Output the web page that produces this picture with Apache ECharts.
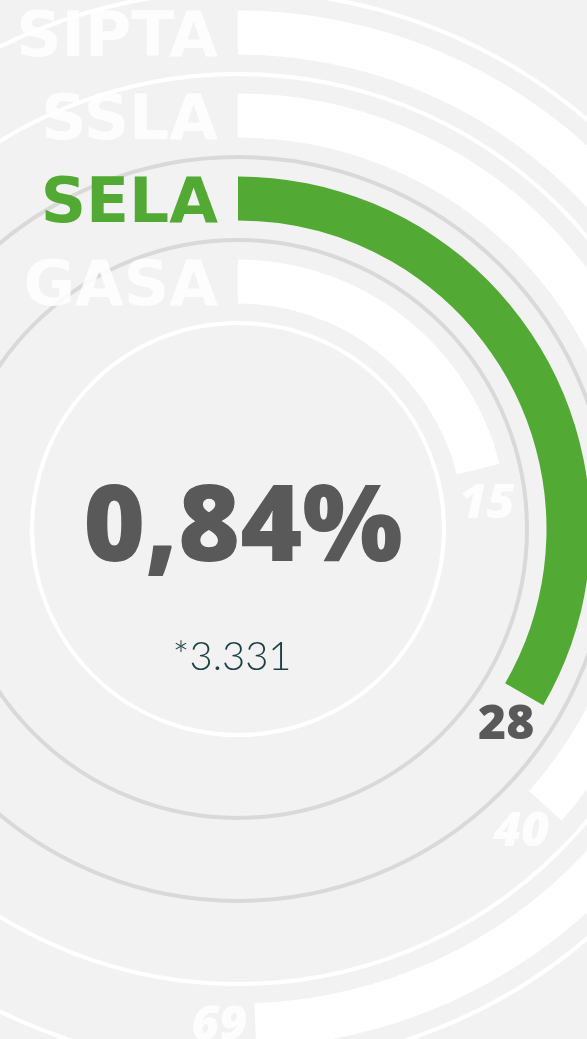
<!DOCTYPE html>
<html>
<head>
<meta charset="utf-8">
<title>SELA</title>
<style>
html, body { margin: 0; padding: 0; background: #f2f2f2; }
#chart { width: 587px; height: 1039px; }
</style>
<script src="https://cdn.jsdelivr.net/npm/echarts@6/dist/echarts.min.js"></script>
</head>
<body>
<div id="chart"></div>
<script>
// categories from the inner ring to the outer one
var categories = ['GASA', 'SELA', 'SSLA', 'SIPTA'];
var values = [15, 28, 40, 69];
// sweep of each bar in degrees
var arcs = [76, 120, 132, 178];
var highlight = 'SELA';
var headline = '0,84%';
var note = '*3.331';

var green = '#52a934';
var dark = '#595959';

var chart = echarts.init(document.getElementById('chart'));

var barData = categories.map(function (c, i) {
  var on = c === highlight;
  return {
    value: arcs[i],
    itemStyle: { color: on ? green : '#ffffff' },
    label: {
      color: on ? dark : 'rgba(255,255,255,0.85)',
      fontStyle: on ? 'normal' : 'italic'
    }
  };
});

var option = {
  backgroundColor: '#f2f2f2',
  polar: {
    center: [238, 529],
    radius: [206, 538]
  },
  angleAxis: {
    type: 'value',
    min: 0,
    max: 360,
    startAngle: 90,
    clockwise: true,
    show: false
  },
  radiusAxis: {
    type: 'category',
    data: categories,
    axisLine: { show: false },
    axisTick: { show: false, interval: 0 },
    axisLabel: {
      interval: 0,
      hideOverlap: false,
      margin: 20,
      verticalAlign: 'top',
      lineHeight: 14,
      fontSize: 63,
      fontWeight: 'bold',
      fontFamily: "'DejaVu Sans', sans-serif",
      color: function (v) {
        return v === highlight ? green : 'rgba(255,255,255,0.85)';
      }
    },
    splitLine: {
      show: true,
      interval: 0,
      lineStyle: {
        width: 4,
        color: ['#ffffff', '#d9d9d9', '#d9d9d9', '#ffffff', '#ffffff']
      }
    },
    z: 1
  },
  series: [{
    type: 'bar',
    coordinateSystem: 'polar',
    barWidth: 44,
    data: barData,
    silent: true,
    label: {
      show: true,
      position: 'end',
      rotate: 0,
      distance: 36,
      align: 'center',
      verticalAlign: 'middle',
      fontSize: 48,
      fontWeight: 800,
      fontFamily: "'Open Sans', sans-serif",
      formatter: function (p) { return values[p.dataIndex]; }
    }
  }],
  graphic: [{
    type: 'text',
    x: 243,
    y: 531,
    style: {
      text: headline,
      fill: dark,
      font: "800 106px 'Open Sans', sans-serif",
      textAlign: 'center',
      textVerticalAlign: 'middle'
    }
  }, {
    type: 'text',
    x: 232,
    y: 657,
    style: {
      text: note,
      fill: '#1b3f45',
      font: "300 40px Lato, sans-serif",
      textAlign: 'center',
      textVerticalAlign: 'middle'
    }
  }]
};

chart.setOption(option);
</script>
</body>
</html>
